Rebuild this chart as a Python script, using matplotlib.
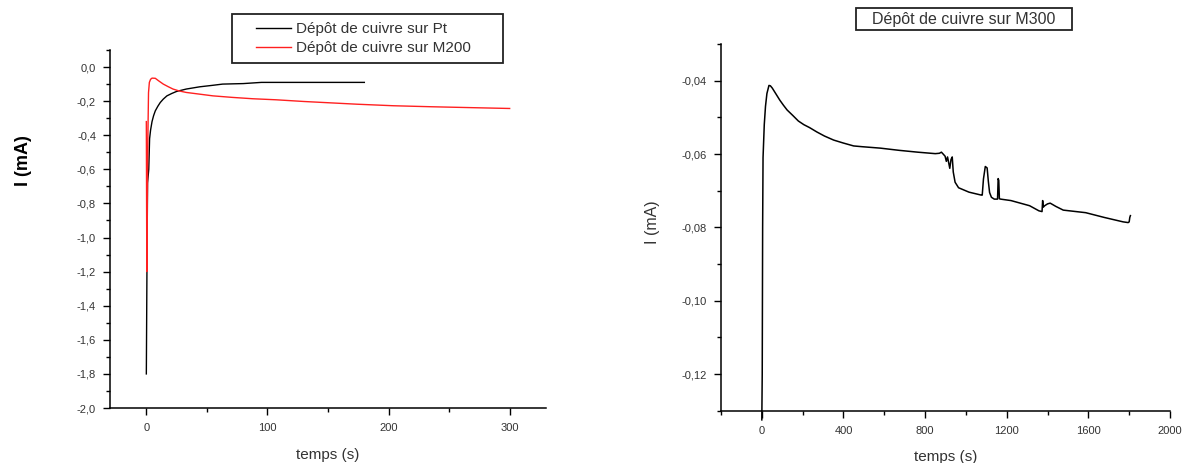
import matplotlib
matplotlib.use('Agg')
import matplotlib.pyplot as plt
from matplotlib.patches import Rectangle
from matplotlib.ticker import MultipleLocator, FuncFormatter

plt.rcParams['font.family'] = ['Liberation Sans', 'DejaVu Sans']

# --- data ---
# left panel: copper deposition on Pt and on M200
t_pt = [0, 0.5, 1, 2, 2.7, 3.5, 4.7, 6, 7.4, 9.5, 11.5, 14, 17, 21, 25, 33,
        44, 55, 63, 80, 95, 120, 150, 180]
i_pt = [-1.80, -1.20, -0.68, -0.60, -0.42, -0.37, -0.32, -0.285, -0.257, -0.23,
        -0.208, -0.188, -0.169, -0.155, -0.143, -0.129, -0.116, -0.107, -0.10,
        -0.097, -0.09, -0.09, -0.09, -0.09]

t_m200 = [0, 0.4, 0.8, 1.3, 1.8, 2.5, 3.5, 4.7, 7.4, 10, 14, 18, 22, 27, 33,
          44, 55, 71, 88, 107, 130, 152, 174, 204, 236, 274, 300]
i_m200 = [-0.32, -1.20, -0.80, -0.40, -0.15, -0.09, -0.072, -0.065, -0.066,
          -0.08, -0.10, -0.115, -0.129, -0.14, -0.149, -0.159, -0.169, -0.178,
          -0.186, -0.192, -0.202, -0.21, -0.218, -0.227, -0.233, -0.239, -0.243]

# right panel: copper deposition on M300
t_m300 = [0, 2, 4, 6, 8, 12, 18, 25, 35, 42, 51, 69, 88, 106, 124, 152, 179,
          206, 234, 270, 307, 352, 399, 450, 490, 581, 673, 764, 850, 870, 880,
          890, 898, 904, 910, 916, 921, 927, 933, 938, 947, 964, 1015, 1075,
          1080, 1086, 1095, 1104, 1110, 1116, 1125, 1139, 1155, 1158, 1161,
          1164, 1170, 1221, 1312, 1358, 1373, 1376, 1379, 1386, 1400, 1413,
          1441, 1477, 1587, 1678, 1770, 1795, 1800, 1803, 1806]
i_m300 = [-0.1325, -0.12, -0.08, -0.061, -0.058, -0.052, -0.047, -0.0435,
          -0.0413, -0.0414, -0.042, -0.0436, -0.0453, -0.0467, -0.048, -0.0495,
          -0.051, -0.052, -0.0528, -0.054, -0.0551, -0.0562, -0.057, -0.0578,
          -0.058, -0.0584, -0.059, -0.0595, -0.0599, -0.0598, -0.0595, -0.0601,
          -0.0606, -0.062, -0.0608, -0.0625, -0.0639, -0.0615, -0.0608,
          -0.0649, -0.0677, -0.0692, -0.0704, -0.0712, -0.0712, -0.0668,
          -0.0634, -0.0638, -0.0675, -0.0705, -0.0718, -0.0723, -0.0723,
          -0.0667, -0.0672, -0.0722, -0.0723, -0.0727, -0.0741, -0.0755,
          -0.0757, -0.0727, -0.0745, -0.0741, -0.0736, -0.0734, -0.0743,
          -0.0753, -0.076, -0.0773, -0.0785, -0.0787, -0.0785, -0.0773, -0.0768]

labels_left = ['Dépôt de cuivre sur Pt', 'Dépôt de cuivre sur M200']
title_right = 'Dépôt de cuivre sur M300'

txt = '#333333'
W, H = 1185, 463
fig = plt.figure(figsize=(W / 100, H / 100), dpi=100)


def px_axes(x0, y0, x1, y1):
    return fig.add_axes([x0 / W, 1 - y1 / H, (x1 - x0) / W, (y1 - y0) / H])


def style(ax, ydec):
    for s in ['top', 'right']:
        ax.spines[s].set_visible(False)
    for s in ['left', 'bottom']:
        ax.spines[s].set_linewidth(1.1)
    ax.tick_params(which='major', direction='out', length=5, width=1.0,
                   labelsize=8, labelcolor=txt)
    ax.tick_params(which='minor', direction='out', length=3, width=1.0)
    ax.tick_params(axis='x', pad=6)
    ax.tick_params(axis='y', pad=5)
    ax.yaxis.set_major_formatter(
        FuncFormatter(lambda v, p: f'{v:.{ydec}f}'.replace('.', ',')))
    ax.xaxis.set_major_formatter(FuncFormatter(lambda v, p: f'{v:.0f}'))


# left panel
ax1 = px_axes(110, 50, 546, 408)
ax1.plot(t_pt, i_pt, color='black', lw=1.0)
ax1.plot(t_m200, i_m200, color='#ff2020', lw=1.0)
ax1.set_xlim(-30, 330)
ax1.set_ylim(-2.0, 0.1)
ax1.xaxis.set_major_locator(MultipleLocator(100))
ax1.xaxis.set_minor_locator(MultipleLocator(50))
ax1.yaxis.set_major_locator(MultipleLocator(0.2))
ax1.yaxis.set_minor_locator(MultipleLocator(0.1))
style(ax1, 1)
ax1.set_xlabel('temps (s)', fontsize=11, color=txt)
ax1.xaxis.set_label_coords(0.5, -0.112)
fig.text(24 / W, 1 - 161 / H, 'I (mA)', rotation=90, ha='center', va='center',
         fontsize=13, fontweight='bold', color='black')

leg = ax1.legend(labels_left, loc='upper left', frameon=False, fontsize=11,
                 handlelength=2.3, handletextpad=0.35, labelspacing=0.35,
                 borderaxespad=0, borderpad=0,
                 bbox_to_anchor=(256 / W, 1 - 22 / H),
                 bbox_transform=fig.transFigure)
for t in leg.get_texts():
    t.set_color(txt)
fig.patches.append(Rectangle((232 / W, 1 - 63 / H), (503 - 232) / W, 49 / H,
                             transform=fig.transFigure, fill=False,
                             edgecolor='#222222', lw=1.3))

# right panel
ax2 = px_axes(721, 44, 1170, 410.7)
ax2.plot(t_m300, i_m300, color='black', lw=1.1, clip_on=False)
ax2.set_xlim(-200, 2000)
ax2.set_ylim(-0.13, -0.03)
ax2.xaxis.set_major_locator(MultipleLocator(400))
ax2.xaxis.set_minor_locator(MultipleLocator(200))
ax2.yaxis.set_major_locator(MultipleLocator(0.02))
ax2.yaxis.set_minor_locator(MultipleLocator(0.01))
style(ax2, 2)
ax2.set_xlabel('temps (s)', fontsize=11, color=txt)
ax2.xaxis.set_label_coords(0.5, -0.108)
fig.text(652 / W, 1 - 222 / H, 'I (mA)', rotation=90, ha='center',
         va='center', fontsize=11.5, color=txt)

fig.patches.append(Rectangle((856 / W, 1 - 30 / H), (1072 - 856) / W, 22 / H,
                             transform=fig.transFigure, fill=False,
                             edgecolor='#222222', lw=1.3))
fig.text(964 / W, 1 - 19.5 / H, title_right, ha='center', va='center',
         fontsize=11.5, color=txt)

fig.savefig('out.png', dpi=100)
